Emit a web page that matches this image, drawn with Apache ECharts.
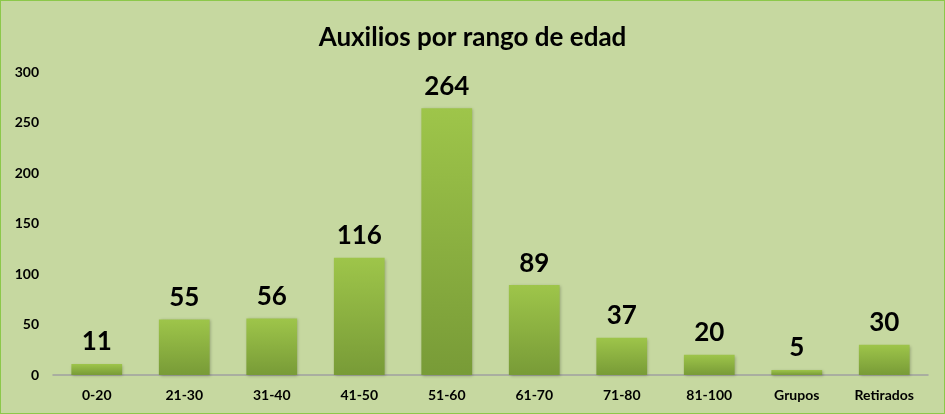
<!DOCTYPE html>
<html>
<head>
<meta charset="utf-8">
<script src="https://cdn.jsdelivr.net/npm/echarts@6/dist/echarts.min.js"></script>
<style>
  html, body { margin: 0; padding: 0; background: #c6d8a0; }
  #chart { width: 943px; height: 412px; border: 1px solid #8cc84a; }
</style>
</head>
<body>
<div id="chart"></div>
<script>
const categories = ['0-20', '21-30', '31-40', '41-50', '51-60', '61-70', '71-80', '81-100', 'Grupos', 'Retirados']
const auxilios = [11, 55, 56, 116, 264, 89, 37, 20, 5, 30]
const yTicks = [0, 50, 100, 150, 200, 250, 300]

const font = 'Lato, "Open Sans", sans-serif'

let myChart = echarts.init(document.getElementById('chart'))
let option = {
  backgroundColor: '#c6d8a0',
  title: {
    text: 'Auxilios por rango de edad',
    left: 'center',
    top: 19,
    textStyle: { fontFamily: font, fontWeight: 'bold', fontSize: 26, color: '#000' }
  },
  grid: { left: 52, right: 16, top: 71, bottom: 38 },
  xAxis: {
    type: 'category',
    data: categories,
    axisTick: { show: false },
    axisLine: { lineStyle: { color: '#a0a0a0', width: 1.5 } },
    axisLabel: { color: '#000', fontFamily: font, fontWeight: 'bold', fontSize: 14, margin: 13 }
  },
  yAxis: {
    type: 'value',
    min: yTicks[0],
    max: yTicks[yTicks.length - 1],
    interval: 50,
    splitLine: { show: false },
    axisLine: { show: false },
    axisTick: { show: false },
    axisLabel: { color: '#000', fontFamily: font, fontWeight: 'bold', fontSize: 14, margin: 14 }
  },
  series: [{
    type: 'bar',
    data: auxilios,
    barWidth: '58%',
    itemStyle: {
      color: new echarts.graphic.LinearGradient(0, 0, 0, 1, [
        { offset: 0, color: '#9ec54a' },
        { offset: 1, color: '#789b37' }
      ]),
      shadowColor: 'rgba(0,0,0,0.25)',
      shadowBlur: 3,
      shadowOffsetX: 1,
      shadowOffsetY: 1
    },
    label: {
      show: true,
      position: 'top',
      distance: 9,
      color: '#000',
      fontFamily: font,
      fontWeight: 'bold',
      fontSize: 26
    }
  }]
}
myChart.setOption(option)
</script>
</body>
</html>
